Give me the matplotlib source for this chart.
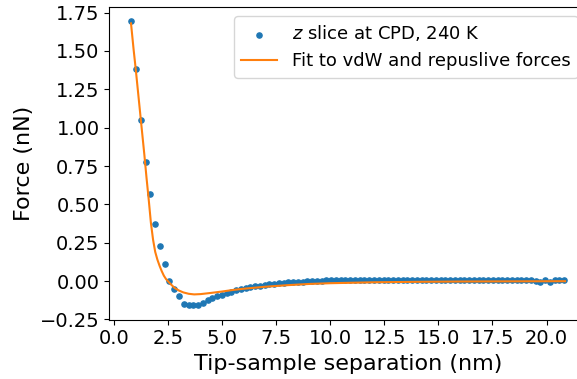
import matplotlib

matplotlib.use("Agg")
import matplotlib.pyplot as plt

# z slice data (nm, nN)
sep = [0.80, 1.02, 1.24, 1.46, 1.68, 1.90, 2.12, 2.34, 2.56, 2.78,
       3.00, 3.22, 3.44, 3.66, 3.88, 4.10, 4.32, 4.54, 4.76, 4.98,
       5.20, 5.42, 5.64, 5.86, 6.08, 6.30, 6.52, 6.74, 6.96, 7.18,
       7.40, 7.62, 7.84, 8.06, 8.28, 8.50, 8.72, 8.94, 9.16, 9.38,
       9.60, 9.82, 10.04, 10.26, 10.48, 10.70, 10.92, 11.14, 11.36, 11.58,
       11.80, 12.02, 12.24, 12.46, 12.68, 12.90, 13.12, 13.34, 13.56, 13.78,
       14.00, 14.22, 14.44, 14.66, 14.88, 15.10, 15.32, 15.54, 15.76, 15.98,
       16.20, 16.42, 16.64, 16.86, 17.08, 17.30, 17.52, 17.74, 17.96, 18.18,
       18.40, 18.62, 18.84, 19.06, 19.28, 19.50, 19.72, 19.94, 20.16, 20.38,
       20.60, 20.82]
force = [1.694, 1.381, 1.053, 0.774, 0.570, 0.374, 0.226, 0.111, 0.000, -0.054,
         -0.098, -0.150, -0.157, -0.158, -0.157, -0.141, -0.126, -0.113, -0.100, -0.089,
         -0.078, -0.070, -0.061, -0.052, -0.048, -0.041, -0.035, -0.030, -0.026, -0.020,
         -0.017, -0.013, -0.011, -0.009, -0.007, -0.005, -0.003, -0.001, 0.000, 0.002,
         0.003, 0.004, 0.004, 0.005, 0.005, 0.006, 0.006, 0.007, 0.007, 0.008,
         0.008, 0.008, 0.009, 0.009, 0.008, 0.009, 0.009, 0.008, 0.009, 0.009,
         0.008, 0.009, 0.009, 0.009, 0.008, 0.009, 0.009, 0.008, 0.009, 0.009,
         0.009, 0.008, 0.009, 0.009, 0.009, 0.008, 0.009, 0.010, 0.009, 0.009,
         0.008, 0.009, 0.008, 0.008, 0.007, -0.002, -0.004, 0.004, -0.003, 0.006,
         0.007, 0.010]

# fitted vdW + repulsive curve
fit_sep = [0.78, 0.9, 1.0, 1.1, 1.2, 1.3, 1.4, 1.5, 1.6, 1.7,
           1.8, 1.9, 2.0, 2.1, 2.2, 2.3, 2.4, 2.5, 2.65, 2.8,
           3.0, 3.2, 3.45, 3.7, 4.0, 4.5, 5.0, 5.5, 6.0, 7.0,
           8.0, 9.0, 10.0, 11.0, 12.0, 14.0, 16.0, 18.0, 20.86]
fit_force = [1.68, 1.51, 1.38, 1.24, 1.10, 0.96, 0.82, 0.67, 0.53, 0.38,
             0.27, 0.19, 0.14, 0.10, 0.065, 0.035, 0.013, -0.003, -0.025, -0.045,
             -0.062, -0.074, -0.083, -0.087, -0.085, -0.077, -0.068, -0.058, -0.050, -0.037,
             -0.027, -0.019, -0.014, -0.011, -0.008, -0.005, -0.003, -0.002, -0.001]

fig = plt.figure(figsize=(5.77, 3.79), dpi=100)
# axes run a little past the right edge, as in the cropped original
ax = fig.add_axes([109.3 / 577, 59.5 / 379, 477.5 / 577, 312.5 / 379])

ax.scatter(sep, force, s=14, color="C0", label="$z$ slice at CPD, 240 K", zorder=2)
ax.plot(fit_sep, fit_force, color="C1", lw=1.5, label="Fit to vdW and repuslive forces", zorder=3)

ax.set_xticks([0, 2.5, 5, 7.5, 10, 12.5, 15, 17.5, 20])
ax.set_yticks([-0.25, 0, 0.25, 0.5, 0.75, 1.0, 1.25, 1.5, 1.75])
ax.tick_params(labelsize=14)
ax.set_xlabel("Tip-sample separation (nm)", fontsize=16)
ax.set_ylabel("Force (nN)", fontsize=16)
ax.legend(loc="upper right", fontsize=13, scatterpoints=1)

fig.savefig("out.png", dpi=100)
